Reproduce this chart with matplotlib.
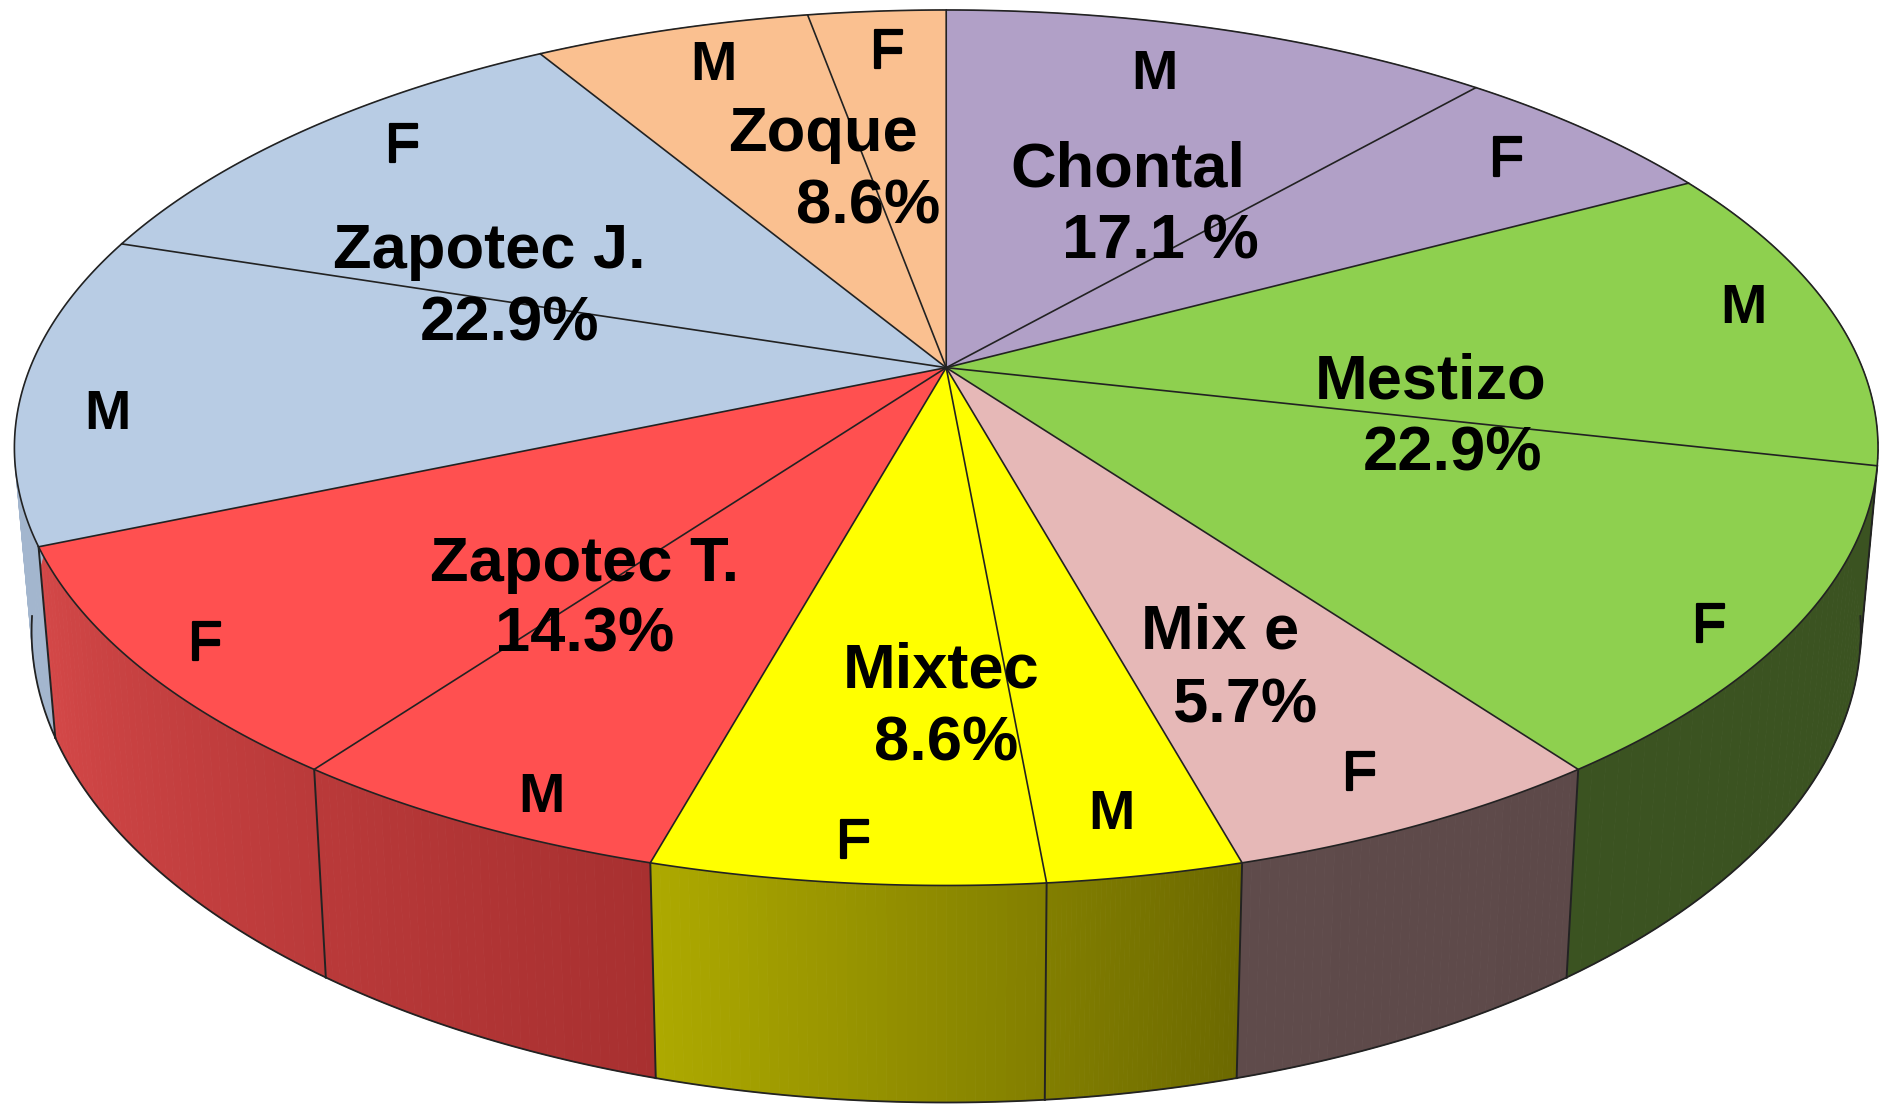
import numpy as np
import matplotlib
matplotlib.use("Agg")
import matplotlib.pyplot as plt
import matplotlib.patheffects as pe

# ---- data (cases per ethnic group / sex, clockwise from 12 o'clock)
groups = ["Chontal", "Mestizo", "Mix e", "Mixtec", "Zapotec T.", "Zapotec J.", "Zoque"]
group_pct = ["17.1 %", "22.9%", "5.7%", "8.6%", "14.3%", "22.9%", "8.6%"]
segment_group = [0, 0, 1, 1, 2, 3, 3, 4, 4, 5, 5, 6, 6]
segment_sex = ["M", "F", "M", "F", "F", "M", "F", "M", "F", "M", "F", "M", "F"]
segment_count = [4, 2, 4, 4, 2, 1, 2, 2, 3, 4, 4, 2, 1]

# ---- styles
top_colors = ["#B1A0C7", "#8ED04F", "#E6B8B7", "#FFFF00", "#FF5050", "#B8CCE4", "#FAC090"]
side_left = ["#6A5C7A", "#3B5321", "#5F4B4B", "#AEAA00", "#D44848", "#A3B6CE", "#9A7655"]
side_right = ["#6A5C7A", "#3B5321", "#5D4949", "#6C6900", "#A83030", "#A3B6CE", "#9A7655"]
EDGE = "#222222"
FONT = "Liberation Sans"

# ---- perspective disc model, in pixels of the 1890x1120 figure
S = 1890 / 1568
CX = 785 * S
TOP = dict(y0=305 * S, A=760 * S, B=351 * S)
BOT = dict(y0=452 * S, A=746 * S, B=378 * S)
K = 0.183

def project(theta, p):
    u, v = np.sin(theta), np.cos(theta)
    d = 1 + K * v
    return CX + p["A"] * u / d, p["y0"] - p["B"] * v / d

group_xy = [
    ((936, 137), (963, 197)), ((1187, 313), (1205, 373)), ((1012, 520), (1033, 582)),
    ((781, 553), (785, 613)), ((485, 464), (485, 523)), ((406, 205), (423, 265)),
    ((683, 108), (720, 168)),
]
sex_xy = [(958, 58), (1250, 130), (1446, 252), (1418, 517), (1128, 640), (922, 672),
          (708, 696), (449, 658), (170, 532), (89, 340), (334, 119), (592, 51), (736, 41)]
TEXT_DY = 4  # shift from box centre to glyph centre

fig = plt.figure(figsize=(18.9, 11.2), dpi=100, facecolor="white")
ax = fig.add_axes([0, 0, 1, 1])
ax.set_xlim(0, 1890)
ax.set_ylim(1120, 0)
ax.axis("off")

total = sum(segment_count)
edges = 2 * np.pi * np.cumsum([0] + segment_count) / total

# side wall: only the front half is visible
for i, g in enumerate(segment_group):
    ts = np.linspace(edges[i], edges[i + 1], 41)
    xt, yt = project(ts, TOP)
    xb, yb = project(ts, BOT)
    g_idx = [j for j, s in enumerate(segment_group) if s == g]
    g0, g1 = edges[g_idx[0]], edges[g_idx[-1] + 1]
    c0 = np.array(matplotlib.colors.to_rgb(side_left[g]))
    c1 = np.array(matplotlib.colors.to_rgb(side_right[g]))
    for j in range(40):
        f = (0.5 * (ts[j] + ts[j + 1]) - g0) / (g1 - g0)  # later angle = further left in picture
        col = c0 * f + c1 * (1 - f)
        ax.fill([xt[j], xt[j + 1], xb[j + 1], xb[j]], [yt[j], yt[j + 1], yb[j + 1], yb[j]],
                facecolor=col, edgecolor=col, lw=0.6, zorder=2 + (np.cos(ts[j]) < 0))
    front = np.cos(ts) < -0.15
    ax.plot(xb[front], yb[front], color=EDGE, lw=1.3, zorder=4)
    if np.cos(edges[i]) < 0:
        x0, y0 = project(edges[i], TOP)
        x1, y1 = project(edges[i], BOT)
        ax.plot([x0, x1], [y0, y1], color=EDGE, lw=1.4, zorder=4)

# top face
apex = (CX, TOP["y0"])
for i, g in enumerate(segment_group):
    ts = np.linspace(edges[i], edges[i + 1], 80)
    x, y = project(ts, TOP)
    ax.fill(np.r_[apex[0], x], np.r_[apex[1], y], facecolor=top_colors[g], edgecolor="none", zorder=5)
for i, g in enumerate(segment_group):
    ts = np.linspace(edges[i], edges[i + 1], 80)
    x, y = project(ts, TOP)
    ax.plot(np.r_[apex[0], x], np.r_[apex[1], y], color=EDGE, lw=1.2, zorder=6)

# labels
for name, pct, (p1, p2) in zip(groups, group_pct, group_xy):
    ax.text(p1[0] * S, (p1[1] + TEXT_DY) * S, name, ha="center", va="center", fontsize=45.5,
            fontweight="bold", family=FONT, color="black", zorder=8)
    ax.text(p2[0] * S, (p2[1] + TEXT_DY) * S, pct, ha="center", va="center", fontsize=45.5,
            fontweight="bold", family=FONT, color="black", zorder=8)
for sex, p in zip(segment_sex, sex_xy):
    t = ax.text(p[0] * S, (p[1] + TEXT_DY) * S, sex, ha="center", va="center", fontsize=40,
                fontweight="bold" if sex == "M" else "normal", family=FONT, color="black", zorder=8)
    if sex == "F":
        t.set_path_effects([pe.withStroke(linewidth=1.6, foreground="black")])

fig.savefig("out.png", dpi=100, facecolor="white")
